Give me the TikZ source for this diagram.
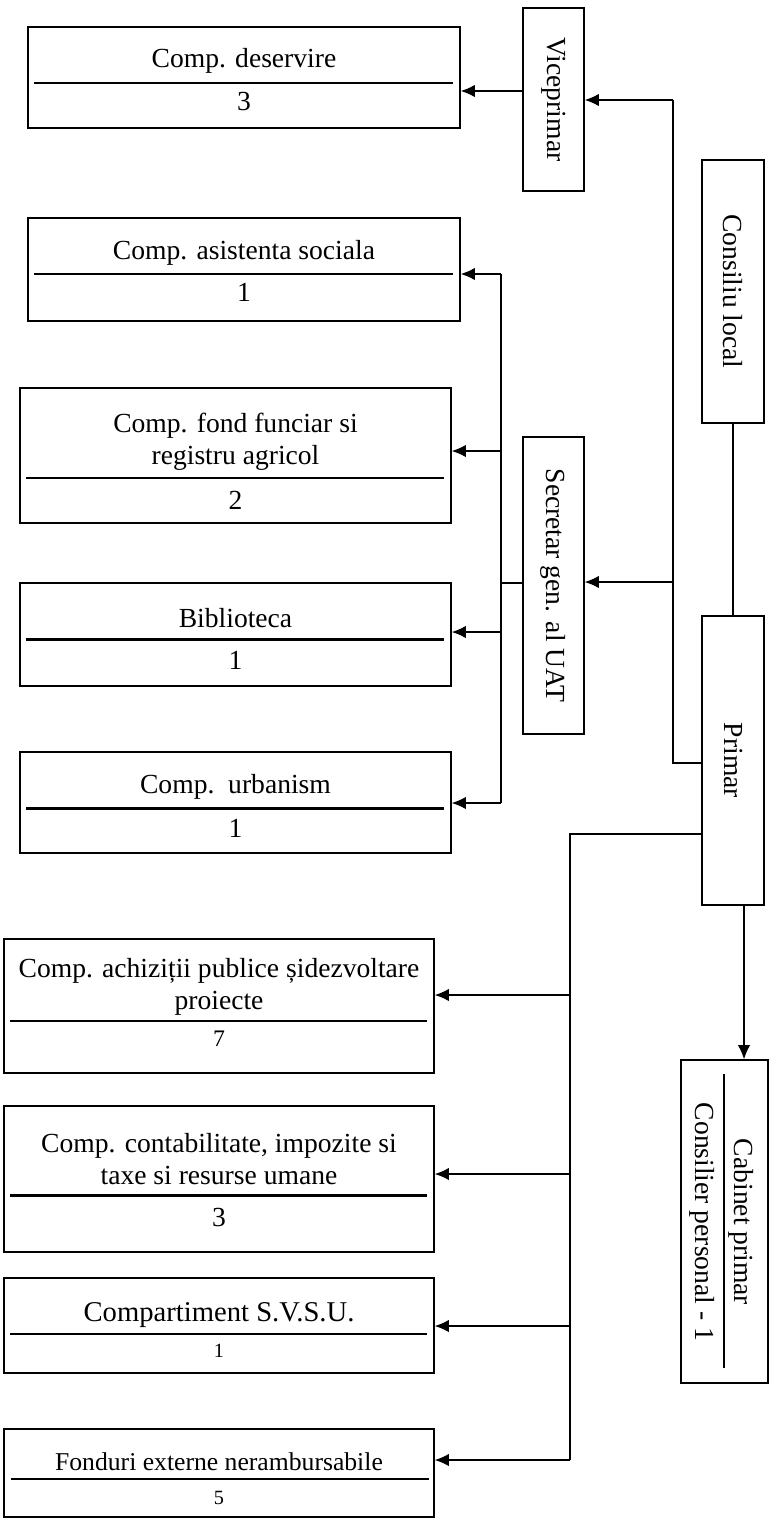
\documentclass[tikz,border=0pt]{standalone}
\usepackage{fontspec}
\setmainfont{Liberation Serif}
\usepackage{tikz}
\usetikzlibrary{arrows.meta,calc}

\begin{document}
\begin{tikzpicture}[
  box/.style={draw, line width=0.85pt, inner sep=0pt},
  txt/.style={font=\fontsize{15.7}{18}\selectfont, align=center, inner sep=0pt},
  smalltxt/.style={font=\fontsize{14.6}{17}\selectfont, align=center, inner sep=0pt},
  nrtxt/.style={font=\fontsize{11.5}{14}\selectfont, inner sep=0pt},
  link/.style={line width=0.7pt},
  arr/.style={line width=0.7pt, -{Latex[length=8pt,width=7pt]}},
  bold sep/.style={line width=1.7pt},
  thin sep/.style={line width=0.7pt}
]
\useasboundingbox (0cm,0cm) rectangle (15.4cm,-30.4cm);
\fill[white] (0cm,0cm) rectangle (15.4cm,-30.4cm);

% conducere
\node[box, txt, minimum width=1.24cm, minimum height=5.26cm] (consiliu) at (14.66cm,-5.83cm) {\rotatebox{-90}{Consiliu local}};
\node[box, txt, minimum width=1.24cm, minimum height=5.78cm] (primar) at (14.66cm,-15.21cm) {\rotatebox{-90}{Primar}};
\node[box, txt, minimum width=1.22cm, minimum height=3.66cm] (viceprimar) at (11.07cm,-1.99cm) {\rotatebox{-90}{Viceprimar}};
\node[box, txt, minimum width=1.22cm, minimum height=5.94cm] (secretar) at (11.07cm,-11.71cm) {\rotatebox{-90}{Secretar gen. al UAT}};

% cabinet
\node[box, minimum width=1.74cm, minimum height=6.46cm] (cabinet) at (14.49cm,-24.43cm) {};
\node[txt, rotate=-90] (cabinetT) at (14.83cm,-24.44cm) {Cabinet primar};
\node[txt, rotate=-90] (cabinetN) at (14.04cm,-24.44cm) {Consilier personal - 1};
\draw[thin sep] (14.48cm,-21.48cm) -- (14.48cm,-27.36cm);

% viceprimar
\node[box, minimum width=8.64cm, minimum height=2.02cm] (deservire) at (4.88cm,-1.55cm) {};
\node[txt] (deservireT) at (4.88cm,-1.22cm) {Comp. deservire};
\node[txt] (deservireN) at (4.88cm,-2.04cm) {3};
\draw[bold sep] (0.68cm,-1.66cm) -- (9.06cm,-1.66cm);

% secretar
\node[box, minimum width=8.64cm, minimum height=2.06cm] (asistenta) at (4.88cm,-5.39cm) {};
\node[txt] (asistentaT) at (4.88cm,-5.06cm) {Comp. asistenta sociala};
\node[txt] (asistentaN) at (4.88cm,-5.84cm) {1};
\draw[bold sep] (0.68cm,-5.48cm) -- (9.06cm,-5.48cm);

\node[box, minimum width=8.62cm, minimum height=2.70cm] (fond) at (4.71cm,-9.11cm) {};
\node[txt] (fondT) at (4.71cm,-8.83cm) {Comp. fond funciar si\\registru agricol};
\node[txt] (fondN) at (4.71cm,-10.0cm) {2};
\draw[bold sep] (0.52cm,-9.56cm) -- (8.88cm,-9.56cm);

\node[box, minimum width=8.62cm, minimum height=2.06cm] (biblioteca) at (4.71cm,-12.69cm) {};
\node[txt] (bibliotecaT) at (4.71cm,-12.36cm) {Biblioteca};
\node[txt] (bibliotecaN) at (4.71cm,-13.20cm) {1};
\draw[bold sep] (0.52cm,-12.78cm) -- (8.88cm,-12.78cm);

\node[box, minimum width=8.62cm, minimum height=2.02cm] (urbanism) at (4.71cm,-16.05cm) {};
\node[txt] (urbanismT) at (4.71cm,-15.74cm) {Comp.~~urbanism};
\node[txt] (urbanismN) at (4.71cm,-16.56cm) {1};
\draw[bold sep] (0.52cm,-16.16cm) -- (8.88cm,-16.16cm);

% primar
\node[box, minimum width=8.6cm, minimum height=2.68cm] (achizitii) at (4.38cm,-20.12cm) {};
\node[txt] (achizitiiT) at (4.38cm,-19.74cm) {Comp. achiziții publice șidezvoltare\\proiecte};
\node[txt, font=\fontsize{13.5}{16}\selectfont] (achizitiiN) at (4.38cm,-20.78cm) {7};
\draw[thin sep] (0.2cm,-20.42cm) -- (8.54cm,-20.42cm);

\node[box, minimum width=8.6cm, minimum height=2.92cm] (contabilitate) at (4.38cm,-23.58cm) {};
\node[txt] (contabilitateT) at (4.38cm,-23.18cm) {Comp. contabilitate, impozite si\\taxe si resurse umane};
\node[txt] (contabilitateN) at (4.38cm,-24.34cm) {3};
\draw[bold sep] (0.2cm,-23.9cm) -- (8.54cm,-23.9cm);

\node[box, minimum width=8.6cm, minimum height=1.9cm] (svsu) at (4.38cm,-26.51cm) {};
\node[txt, font=\fontsize{16.3}{18}\selectfont] (svsuT) at (4.38cm,-26.3cm) {Compartiment S.V.S.U.};
\node[nrtxt] (svsuN) at (4.38cm,-27.02cm) {1};
\draw[thin sep] (0.2cm,-26.68cm) -- (8.54cm,-26.68cm);

\node[box, minimum width=8.6cm, minimum height=1.76cm] (fonduri) at (4.38cm,-29.46cm) {};
\node[smalltxt] (fonduriT) at (4.38cm,-29.24cm) {Fonduri externe nerambursabile};
\node[nrtxt] (fonduriN) at (4.38cm,-29.96cm) {5};
\draw[thin sep] (0.22cm,-29.58cm) -- (8.58cm,-29.58cm);

% legaturi
\draw[link] (consiliu.south) -- (consiliu.south |- primar.north);

\coordinate (p1) at (13.46cm,-2.0cm);
\coordinate (p2) at (13.46cm,-11.64cm);
\coordinate (p3) at (13.46cm,-15.26cm);
\draw[link] (p1) -- (p3) -- (p3 -| primar.west);
\draw[arr] (p1) -- (p1 -| viceprimar.east);
\draw[arr] (p2) -- (p2 -| secretar.east);

\coordinate (v1) at ($(viceprimar.west)+(0,0.17cm)$);
\draw[arr] (v1) -- (v1 -| deservire.east);

\coordinate (s0) at (10.02cm,-11.66cm);
\coordinate (s1) at (10.02cm,-5.48cm);
\coordinate (s2) at (10.02cm,-9.02cm);
\coordinate (s3) at (10.02cm,-12.64cm);
\coordinate (s4) at (10.02cm,-16.06cm);
\draw[link] (s0 -| secretar.west) -- (s0);
\draw[link] (s1) -- (s4);
\draw[arr] (s1) -- (s1 -| asistenta.east);
\draw[arr] (s2) -- (s2 -| fond.east);
\draw[arr] (s3) -- (s3 -| biblioteca.east);
\draw[arr] (s4) -- (s4 -| urbanism.east);

\coordinate (q0) at (11.4cm,-16.68cm);
\coordinate (q1) at (11.4cm,-19.9cm);
\coordinate (q2) at (11.4cm,-23.48cm);
\coordinate (q3) at (11.4cm,-26.52cm);
\coordinate (q4) at (11.4cm,-29.2cm);
\draw[link] (q0 -| primar.west) -- (q0) -- (q4);
\draw[arr] (q1) -- (q1 -| achizitii.east);
\draw[arr] (q2) -- (q2 -| contabilitate.east);
\draw[arr] (q3) -- (q3 -| svsu.east);
\draw[arr] (q4) -- (q4 -| fonduri.east);

\coordinate (c1) at ([xshift=0.22cm]primar.south);
\draw[arr] (c1) -- (c1 |- cabinet.north);
\end{tikzpicture}
\end{document}
